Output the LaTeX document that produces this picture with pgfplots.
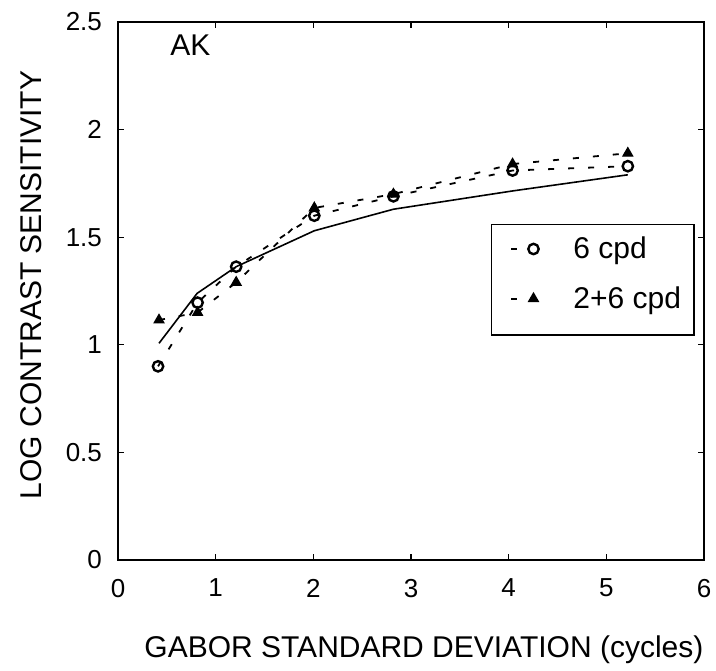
\documentclass[border=0pt]{standalone}
\usepackage{fontspec}
\setmainfont{Liberation Sans}
\usepackage{pgfplots}
\pgfplotsset{compat=1.18}
\begin{document}
\begin{tikzpicture}
\begin{axis}[
  scale only axis,
  width=293pt, height=269pt,
  at={(0,0)}, anchor=south west,
  xmin=0, xmax=6, ymin=0, ymax=2.5,
  xtick={0,1,2,3,4,5,6},
  ytick={0,0.5,1,1.5,2,2.5},
  yticklabels={0,0.5,1,1.5,2,2.5},
  xticklabels={0,1,2,3,4,5,6},
  tick align=inside,
  major tick length=3pt,
  axis line style={line width=0.7pt},
  every tick/.style={black, line width=0.6pt},
  /pgf/number format/assume math mode=true,
  tick label style={font=\fontsize{13}{15}\selectfont},
  xticklabel style={yshift=-6pt},
  yticklabel style={xshift=-4.5pt},
  xlabel={GABOR STANDARD DEVIATION (cycles)},
  ylabel={LOG CONTRAST SENSITIVITY},
  label style={font=\fontsize{15}{17}\selectfont},
  xlabel style={at={(rel axis cs:0.522,0)}, anchor=base, yshift=-48.5pt},
  ylabel style={at={(rel axis cs:0,0.511)}, anchor=center, yshift=43.5pt},
  legend style={at={(rel axis cs:0.6365,0.6245)}, anchor=north west, draw=black, line width=0.6pt,
    font=\fontsize{15}{17}\selectfont, row sep=2.5pt, inner ysep=4pt, inner xsep=4.5pt},
  legend cell align=left,
  legend image code/.code={
    \path (-5pt,-13.7pt) (28.5pt,0pt);
    \draw[#1, solid, mark=none] (0pt,0pt) -- (3pt,0pt);
    \draw[#1, only marks] plot coordinates {(11pt,0pt)};
  },
]
% model fit (solid)
\addplot[black, line width=0.8pt, forget plot] coordinates {
 (0.42,1.007) (0.81,1.239) (1.21,1.363) (2.01,1.53) (2.82,1.63) (4.04,1.715) (5.22,1.79)
};
% 6 cpd
\addplot[black, line width=0.9pt, dash pattern=on 3pt off 7pt, mark=o, mark size=2.6pt,
  mark options={solid, line width=1.2pt}] coordinates {
 (0.41,0.90) (0.815,1.196) (1.21,1.363) (2.01,1.60) (2.82,1.69) (4.04,1.81) (5.22,1.83)
};
\addlegendentry{6 cpd}
% 2+6 cpd
\addplot[black, line width=0.9pt, dash pattern=on 3pt off 7pt, mark=triangle*, mark size=2.8pt,
  mark options={solid, fill=black, line width=0.6pt}] coordinates {
 (0.42,1.115) (0.815,1.15) (1.21,1.29) (2.01,1.636) (2.82,1.70) (4.04,1.84) (5.22,1.89)
};
\addlegendentry{2+6 cpd}
\node[font=\fontsize{15}{17}\selectfont] at (axis cs:0.74,2.39) {AK};
\end{axis}
\pgfresetboundingbox
\path[use as bounding box] (-59pt,-55pt) rectangle (299pt,280pt);
\end{tikzpicture}
\end{document}
